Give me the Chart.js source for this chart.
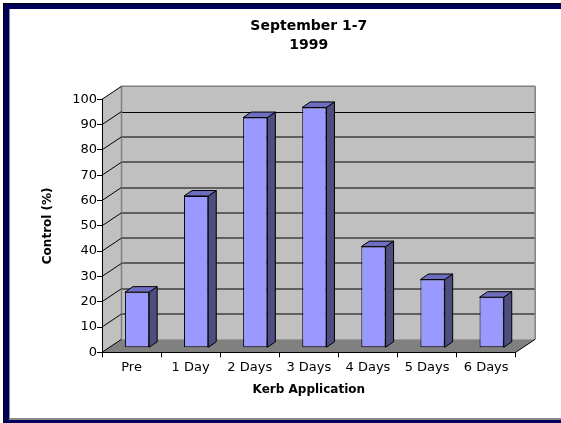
<!DOCTYPE html>
<html>
<head>
<meta charset="utf-8">
<script src="https://cdn.jsdelivr.net/npm/chart.js@4.4.1/dist/chart.umd.min.js"></script>
<style>
  html, body { margin: 0; padding: 0; background: #fff; overflow: hidden; width: 561px; height: 423px; }
  #wrap { width: 561px; height: 423px; position: relative; overflow: hidden; }
  canvas { display: block; }
</style>
</head>
<body>
<div id="wrap"><canvas id="c" width="561" height="423"></canvas></div>
<script>
// ---- data ----
const categories = ['Pre', '1 Day', '2 Days', '3 Days', '4 Days', '5 Days', '6 Days'];
const controlValues = [22, 60, 91, 95, 40, 27, 20];
const titleLines = ['September 1-7', '1999'];
const yAxisTitle = 'Control (%)';
const xAxisTitle = 'Kerb Application';
const yMin = 0, yMax = 100, yStep = 10;

// ---- 3D look ----
const WALL_DX = 19.5, WALL_DY = -13;
const BAR_SHIFT_X = 5.5, BAR_SHIFT_Y = -4.5;
const BAR_SIDE_X = 8, BAR_SIDE_Y = -5.5;

function line(ctx, x1, y1, x2, y2) {
  ctx.beginPath(); ctx.moveTo(x1, y1); ctx.lineTo(x2, y2); ctx.stroke();
}

const threeD = {
  id: 'threeD',
  beforeDraw(chart) {
    const ctx = chart.ctx;
    const a = chart.chartArea;
    const y = chart.scales.y;
    const W = 561, H = 423;
    ctx.save();
    ctx.fillStyle = '#ffffff';
    ctx.fillRect(0, 0, W, H);
    // frame (left, top, bottom only)
    ctx.fillStyle = '#00005c';
    ctx.fillRect(3, 3, W - 3, 6);
    ctx.fillRect(3, 3, 6, H - 3);
    ctx.fillRect(3, 420, W - 3, 3);
    ctx.fillStyle = '#000000';
    ctx.fillRect(3, 3, W - 3, 1);
    ctx.fillRect(3, 3, 1, H - 3);
    ctx.fillStyle = '#8a8a8a';
    ctx.fillRect(9, 9, 1, 410);
    ctx.fillRect(9, 418, W - 9, 2);

    const L = a.left, R = a.right;
    const T = y.getPixelForValue(yMax), B = y.getPixelForValue(yMin);
    const dx = WALL_DX, dy = WALL_DY;
    // back wall
    ctx.fillStyle = '#c0c0c0';
    ctx.fillRect(L + dx, T + dy, R - L, B - T);
    // side wall
    ctx.beginPath();
    ctx.moveTo(L, B); ctx.lineTo(L, T); ctx.lineTo(L + dx, T + dy); ctx.lineTo(L + dx, B + dy);
    ctx.closePath(); ctx.fill();
    // floor
    ctx.fillStyle = '#808080';
    ctx.beginPath();
    ctx.moveTo(L, B); ctx.lineTo(R, B); ctx.lineTo(R + dx, B + dy); ctx.lineTo(L + dx, B + dy);
    ctx.closePath(); ctx.fill();
    // back wall grid lines
    y.ticks.forEach(t => {
      const v = t.value;
      if (v === yMin || v === yMax) return;
      const py = Math.round(y.getPixelForValue(v) + dy);
      if (v === 90) { ctx.strokeStyle = '#000000'; ctx.lineWidth = 1; line(ctx, L + dx, py + 0.5, R + dx, py + 0.5); }
      else { ctx.strokeStyle = '#5f5f5f'; ctx.lineWidth = 2; line(ctx, L + dx, py, R + dx, py); }
    });
    // wall edges
    ctx.strokeStyle = '#808080'; ctx.lineWidth = 1.5;
    line(ctx, L + dx, T + dy, R + dx, T + dy);
    line(ctx, R + dx, T + dy, R + dx, B + dy);
    line(ctx, L + dx, T + dy, L + dx, B + dy);
    // side wall diagonals
    ctx.strokeStyle = '#000000'; ctx.lineWidth = 1;
    y.ticks.forEach(t => {
      const py = y.getPixelForValue(t.value);
      line(ctx, L, py, L + dx, py + dy);
    });
    // floor right edge
    line(ctx, R, B, R + dx, B + dy);
    ctx.restore();
  },
  beforeDatasetsDraw(chart) {
    chart.ctx.save();
    chart.ctx.translate(BAR_SHIFT_X, BAR_SHIFT_Y);
  },
  afterDatasetsDraw(chart) {
    const ctx = chart.ctx;
    const meta = chart.getDatasetMeta(0);
    ctx.lineWidth = 1;
    ctx.strokeStyle = '#000000';
    ctx.lineJoin = 'round';
    meta.data.forEach(bar => {
      const p = bar.getProps(['x', 'y', 'base', 'width'], true);
      const l = p.x - p.width / 2, r = p.x + p.width / 2;
      const top = p.y, base = p.base;
      ctx.fillStyle = '#4d4d80';
      ctx.beginPath();
      ctx.moveTo(r, top); ctx.lineTo(r + BAR_SIDE_X, top + BAR_SIDE_Y);
      ctx.lineTo(r + BAR_SIDE_X, base + BAR_SIDE_Y); ctx.lineTo(r, base);
      ctx.closePath(); ctx.fill(); ctx.stroke();
      ctx.fillStyle = '#6e6ec0';
      ctx.beginPath();
      ctx.moveTo(l, top); ctx.lineTo(r, top);
      ctx.lineTo(r + BAR_SIDE_X, top + BAR_SIDE_Y); ctx.lineTo(l + BAR_SIDE_X, top + BAR_SIDE_Y);
      ctx.closePath(); ctx.fill(); ctx.stroke();
    });
    ctx.restore();
  },
  afterDraw(chart) {
    // keep the right edge open (no frame on the right)
    const ctx = chart.ctx;
    ctx.save();
    ctx.fillStyle = '#ffffff';
    ctx.fillRect(548, 9, 13, 409);
    ctx.restore();
  }
};

Chart.defaults.font.family = '"DejaVu Sans", "Liberation Sans", Arial, sans-serif';
Chart.defaults.color = '#000000';

new Chart(document.getElementById('c'), {
  type: 'bar',
  data: {
    labels: categories,
    datasets: [{
      data: controlValues,
      backgroundColor: '#9999ff',
      borderColor: '#000000',
      borderWidth: 1,
      borderSkipped: false,
      categoryPercentage: 1.0,
      barPercentage: 0.41,
      clip: false
    }]
  },
  options: {
    responsive: false,
    animation: false,
    events: [],
    layout: { padding: { left: 0, right: 45.3, top: 0, bottom: 0 } },
    plugins: {
      legend: { display: false },
      tooltip: { enabled: false },
      title: {
        display: true,
        fullSize: false,
        text: titleLines,
        color: '#000000',
        font: { size: 14, weight: 'bold', lineHeight: 19 / 14 },
        padding: { top: 16.5, bottom: 44.8 }
      }
    },
    scales: {
      x: {
        grid: { display: true, offset: true, drawOnChartArea: false, drawTicks: true, tickLength: 5, color: '#000000', lineWidth: 1 },
        border: { display: true, color: '#000000', width: 1 },
        ticks: { font: { size: 13 }, padding: 2.6, maxRotation: 0, autoSkip: false },
        title: { display: true, text: xAxisTitle, font: { size: 12, weight: 'bold' }, padding: { top: 0, bottom: 25.8 } },
        afterFit(scale) { scale.height = 70.7; }
      },
      y: {
        min: yMin, max: yMax,
        grid: { display: true, drawOnChartArea: false, drawTicks: true, tickLength: 5, color: '#000000', lineWidth: 1 },
        border: { display: true, color: '#000000', width: 1 },
        ticks: { stepSize: yStep, font: { size: 13 }, padding: 0 },
        title: { display: true, text: yAxisTitle, font: { size: 12, weight: 'bold' }, padding: { top: 40.8, bottom: 0 } },
        afterFit(scale) { scale.width = 102; }
      }
    }
  },
  plugins: [threeD]
});
</script>
</body>
</html>
